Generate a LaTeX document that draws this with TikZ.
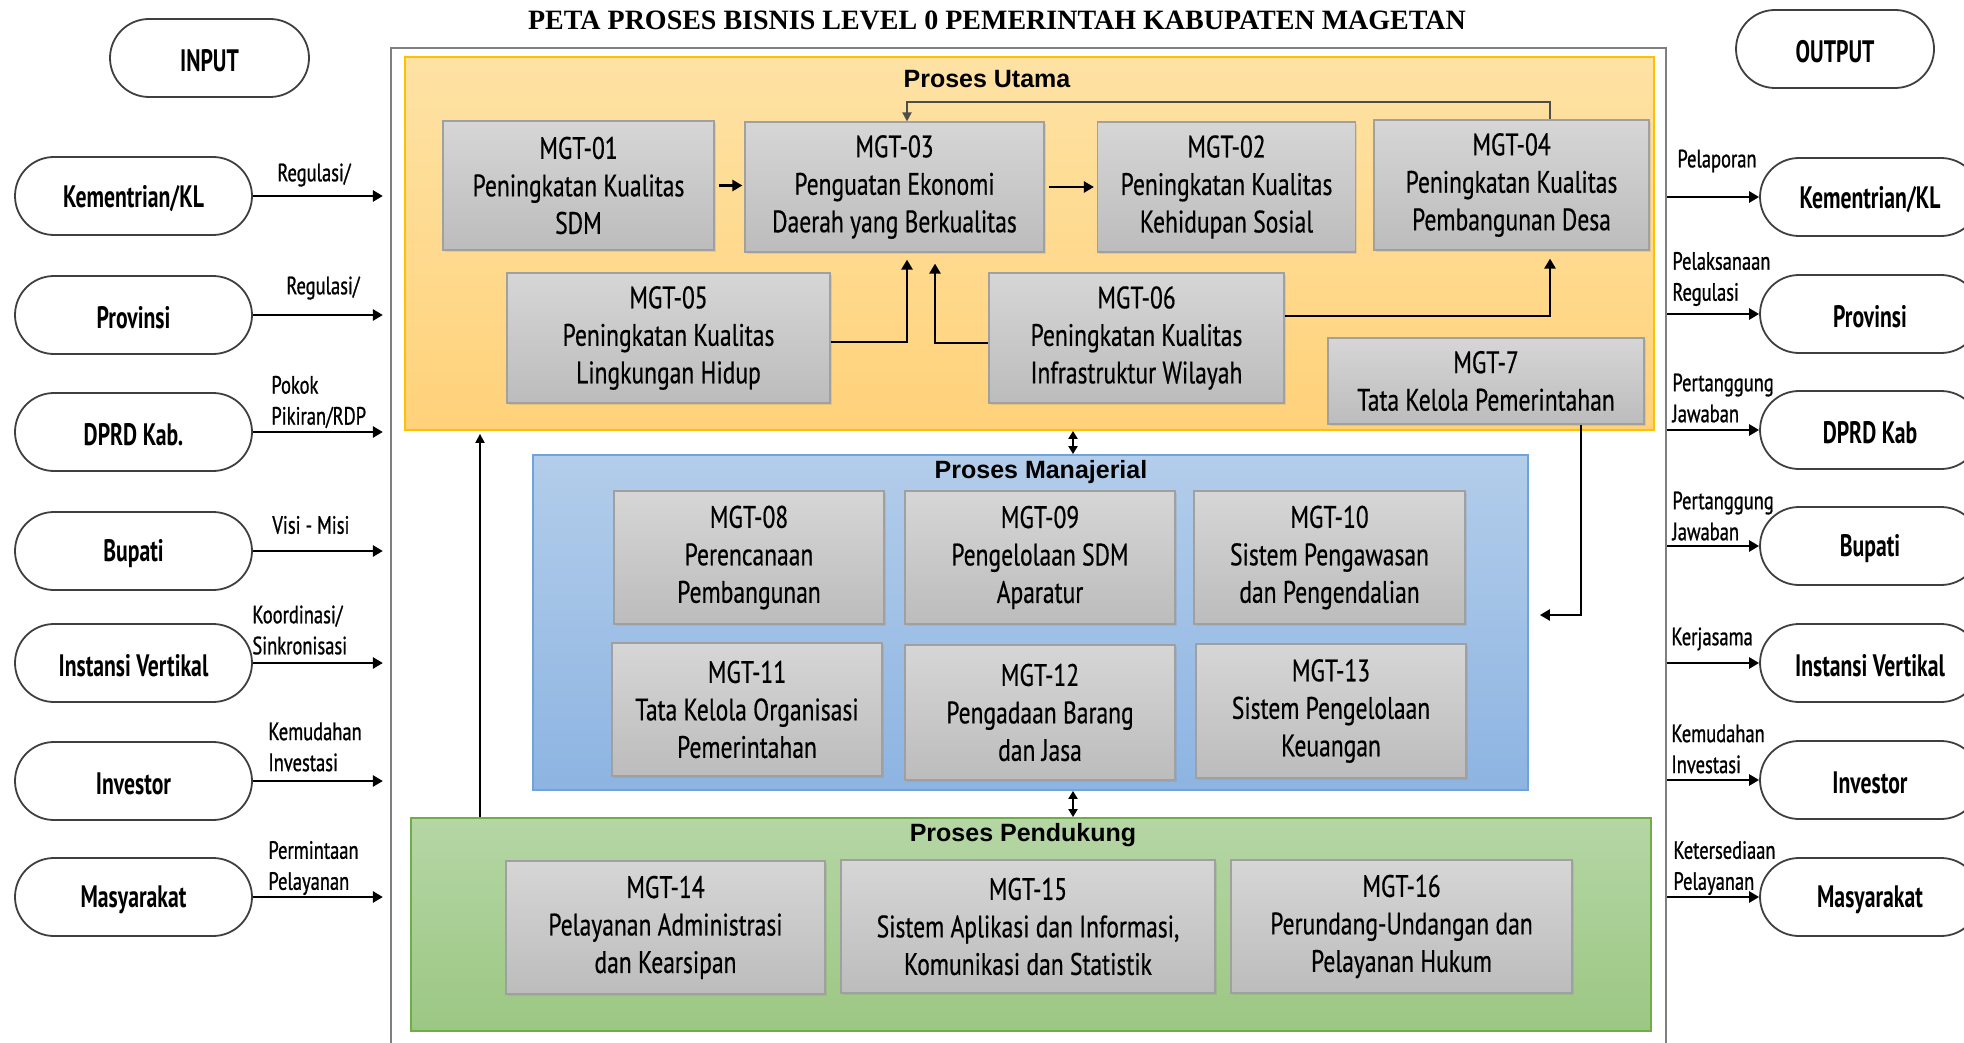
\documentclass[tikz,border=0pt]{standalone}
\usepackage{fontspec}
\setmainfont{Liberation Sans}
\newfontfamily\cnd{PT Sans}[FakeStretch=0.76, FakeBold=0.5]
\newfontfamily\cndl{PT Sans}[FakeStretch=0.74, FakeBold=0.9]
\newfontfamily\cndb{PT Sans}[FakeStretch=0.70]
\newfontfamily\serifb{Liberation Serif}
\usetikzlibrary{arrows.meta,shapes.misc,shadows}
\definecolor{ylwtop}{HTML}{FEE2A4}
\definecolor{ylwbot}{HTML}{FFD27A}
\definecolor{ylwbrd}{HTML}{FFC000}
\definecolor{blutop}{HTML}{B3CDEA}
\definecolor{blubot}{HTML}{8DB4E2}
\definecolor{blubrd}{HTML}{6FA4DB}
\definecolor{grntop}{HTML}{B5D6A5}
\definecolor{grnbot}{HTML}{9CC783}
\definecolor{grnbrd}{HTML}{70AD47}
\definecolor{boxtop}{HTML}{D6D6D6}
\definecolor{boxbot}{HTML}{BCBCBC}
\definecolor{boxbrd}{HTML}{A0A0A0}
\definecolor{frmc}{HTML}{7F7F7F}
\definecolor{stadc}{HTML}{3F3F3F}
\definecolor{fbc}{HTML}{4D4D4D}
\begin{document}
\begin{tikzpicture}[x=0.5pt,y=-0.5pt,
  pbox/.style={draw=boxbrd, line width=0.6pt, top color=boxtop, bottom color=boxbot,
    align=center, inner sep=0pt, font=\cnd\fontsize{15.5}{18.75}\selectfont,
    execute at begin node={\rule{0pt}{14.5pt}},
    drop shadow={opacity=0.2, shadow xshift=0.8pt, shadow yshift=-0.8pt}},
  cont/.style={line width=0.9pt, inner sep=0pt},
  sect/.style={font=\bfseries\fontsize{12.5}{14}\selectfont, inner sep=0pt},
  stad/.style={rounded rectangle, draw=stadc, line width=0.9pt, fill=white,
    minimum height=39pt, minimum width=118.5pt, inner sep=0pt,
    execute at begin node={\rule{0pt}{14pt}},
    font=\cndb\bfseries\fontsize{15.5}{18}\selectfont},
  lbl/.style={anchor=west, align=left, inner sep=0pt, font=\cndl\fontsize{12.5}{15.5}\selectfont},
  arr/.style={line width=1.4pt, -{Triangle[length=5pt,width=5.5pt]}},
  fbline/.style={draw=fbc, line width=1pt, -{Triangle[length=4.5pt,width=4.5pt]}},
  darr/.style={line width=1pt, {Triangle[length=4pt,width=4.5pt]}-{Triangle[length=4pt,width=4.5pt]}},
  uarr/.style={line width=1pt, -{Triangle[length=4.5pt,width=4.5pt]}}
]
\useasboundingbox (0,0) rectangle (1964,1043);
\clip (0,0) rectangle (1964,1043);

% title
\node[font=\serifb\bfseries\fontsize{14}{16}\selectfont, inner sep=0pt] (title) at (997,20)
  {PETA PROSES BISNIS LEVEL 0 PEMERINTAH KABUPATEN MAGETAN};

% outer frame
\node[draw=frmc, line width=1.1pt, minimum width=637.5pt, minimum height=526pt, inner sep=0pt] (frame) at (1028.5,574) {};

% containers
\node[cont, draw=ylwbrd, top color=ylwtop, bottom color=ylwbot, minimum width=624.5pt, minimum height=186.5pt] (utama) at (1029.5,243.5) {};
\node[cont, draw=blubrd, top color=blutop, bottom color=blubot, minimum width=497.5pt, minimum height=167.5pt] (manaj) at (1030.5,622.5) {};
\node[cont, draw=grnbrd, top color=grntop, bottom color=grnbot, minimum width=620pt, minimum height=106.5pt] (pend) at (1031,924.5) {};

\node[sect] (tUtama) at (987,79) {Proses Utama};
\node[sect] (tManaj) at (1041,472) {Proses Manajerial};
\node[sect] (tPend) at (1023,835) {Proses Pendukung};

% Proses Utama boxes
\node[pbox, minimum width=135.5pt, minimum height=64.5pt] (m01) at (578.5,185.5) {MGT-01\\Peningkatan Kualitas\\SDM};
\node[pbox, minimum width=149.5pt, minimum height=65pt] (m03) at (894.5,187) {MGT-03\\Penguatan Ekonomi\\Daerah yang Berkualitas};
\node[pbox, minimum width=129pt, minimum height=65pt] (m02) at (1226.5,187) {MGT-02\\Peningkatan Kualitas\\Kehidupan Sosial};
\node[pbox, minimum width=137.5pt, minimum height=65pt] (m04) at (1511.5,185) {MGT-04\\Peningkatan Kualitas\\Pembangunan Desa};
\node[pbox, minimum width=161.5pt, minimum height=65pt] (m05) at (668.5,338) {MGT-05\\Peningkatan Kualitas\\Lingkungan Hidup};
\node[pbox, minimum width=147.5pt, minimum height=65pt] (m06) at (1136.5,338) {MGT-06\\Peningkatan Kualitas\\Infrastruktur Wilayah};
\node[pbox, minimum width=158pt, minimum height=43pt] (m07) at (1486,381) {MGT-7\\Tata Kelola Pemerintahan};

% Proses Manajerial boxes
\node[pbox, minimum width=135pt, minimum height=66.5pt] (m08) at (749,557.5) {MGT-08\\Perencanaan\\Pembangunan};
\node[pbox, minimum width=135pt, minimum height=66.5pt] (m09) at (1040,557.5) {MGT-09\\Pengelolaan SDM\\Aparatur};
\node[pbox, minimum width=135.5pt, minimum height=66.5pt] (m10) at (1329.5,557.5) {MGT-10\\Sistem Pengawasan\\dan Pengendalian};
\node[pbox, minimum width=135pt, minimum height=66.5pt] (m11) at (747,709.5) {MGT-11\\Tata Kelola Organisasi\\Pemerintahan};
\node[pbox, minimum width=135pt, minimum height=67.5pt] (m12) at (1040,712.5) {MGT-12\\Pengadaan Barang\\dan Jasa};
\node[pbox, minimum width=135pt, minimum height=67pt] (m13) at (1331,711) {MGT-13\\Sistem Pengelolaan\\Keuangan};

% Proses Pendukung boxes
\node[pbox, minimum width=159.5pt, minimum height=66.5pt] (m14) at (665.5,927.5) {MGT-14\\Pelayanan Administrasi\\dan Kearsipan};
\node[pbox, minimum width=187pt, minimum height=66.5pt] (m15) at (1028,926.5) {MGT-15\\Sistem Aplikasi dan Informasi,\\Komunikasi dan Statistik};
\node[pbox, minimum width=170.5pt, minimum height=66.5pt] (m16) at (1401.5,926.5) {MGT-16\\Perundang-Undangan dan\\Pelayanan Hukum};

% internal arrows
\draw[arr, shorten <=2pt, shorten >=1pt] (m01.east) -- (m01.east -| m03.west);
\draw[arr, shorten <=2pt, shorten >=1.5pt] (m03.east) -- (m03.east -| m02.west);
\coordinate (fbR) at (1550,102);
\coordinate (fbL) at (907,102);
\draw[fbline] (m04.north -| fbR) -- (fbR) -- (fbL) -- (fbL |- m03.north);
\coordinate (j1) at (907,342);
\draw[arr, shorten >=3.5pt] (m05.east |- j1) -- (j1) -- (j1 |- m03.south);
\coordinate (j2) at (935,343);
\draw[arr, shorten >=5.5pt] (m06.west |- j2) -- (j2) -- (j2 |- m03.south);
\coordinate (j3) at (1550,316);
\draw[arr, shorten >=4pt] (m06.east |- j3) -- (j3) -- (j3 |- m04.south);
\coordinate (j4) at (1581,615);
\draw[arr, shorten >=5.5pt] (j4 |- m07.south) -- (j4) -- (j4 -| manaj.east);
\coordinate (dx) at (1073,0);
\draw[darr] (dx |- utama.south) -- (dx |- manaj.north);
\draw[darr] (dx |- manaj.south) -- (dx |- pend.north);
\coordinate (ux) at (480,0);
\draw[uarr, shorten >=1.5pt] (ux |- pend.north) -- (ux |- utama.south);

% INPUT side
\node[stad, minimum width=99.5pt] (inL) at (209.5,58) {INPUT};
\node[stad] (kemL) at (133.5,196) {Kementrian/KL};
\node[stad] (proL) at (133.5,315) {Provinsi};
\node[stad] (dprL) at (133.5,432) {DPRD Kab.};
\node[stad] (bupL) at (133.5,551) {Bupati};
\node[stad] (insL) at (133.5,663) {Instansi Vertikal};
\node[stad] (invL) at (133.5,781) {Investor};
\node[stad] (masL) at (133.5,897) {Masyarakat};
\foreach \n in {kemL,proL,dprL,bupL,insL,invL,masL}
  \draw[arr, shorten >=3.5pt] (\n.east) -- (\n.east -| frame.west);
\node[lbl] (lkem) at (277,175) {Regulasi/};
\node[lbl] (lpro) at (286,288) {Regulasi/};
\node[lbl] (ldpr) at (271,402) {Pokok\\Pikiran/RDP};
\node[lbl] (lbup) at (272,525) {Visi - Misi};
\node[lbl] (lins) at (252,630) {Koordinasi/\\Sinkronisasi};
\node[lbl] (linv) at (268,747) {Kemudahan\\Investasi};
\node[lbl] (lmas) at (268,868) {Permintaan\\Pelayanan};

% OUTPUT side
\node[stad, minimum width=99pt] (outR) at (1835,49) {OUTPUT};
\tikzset{stadR/.style={stad, minimum width=110pt}}
\node[stadR] (kemR) at (1870,197) {Kementrian/KL};
\node[stadR] (proR) at (1870,314) {Provinsi};
\node[stadR] (dprR) at (1870,430) {DPRD Kab};
\node[stadR] (bupR) at (1870,546) {Bupati};
\node[stadR] (insR) at (1870,663) {Instansi Vertikal};
\node[stadR] (invR) at (1870,780) {Investor};
\node[stadR] (masR) at (1870,897) {Masyarakat};
\foreach \n in {kemR,proR,dprR,bupR,insR,invR,masR}
  \draw[arr] (\n.west -| frame.east) -- (\n.west);
\node[lbl] (rkem) at (1677,161) {Pelaporan};
\node[lbl] (rpro) at (1672,279) {Pelaksanaan\\Regulasi};
\node[lbl] (rdpr) at (1672,398) {Pertanggung\\Jawaban};
\node[lbl] (rbup) at (1672,516) {Pertanggung\\Jawaban};
\node[lbl] (rins) at (1671,639) {Kerjasama};
\node[lbl] (rinv) at (1671,749) {Kemudahan\\Investasi};
\node[lbl] (rmas) at (1673,868) {Ketersediaan\\Pelayanan};
\end{tikzpicture}
\end{document}
